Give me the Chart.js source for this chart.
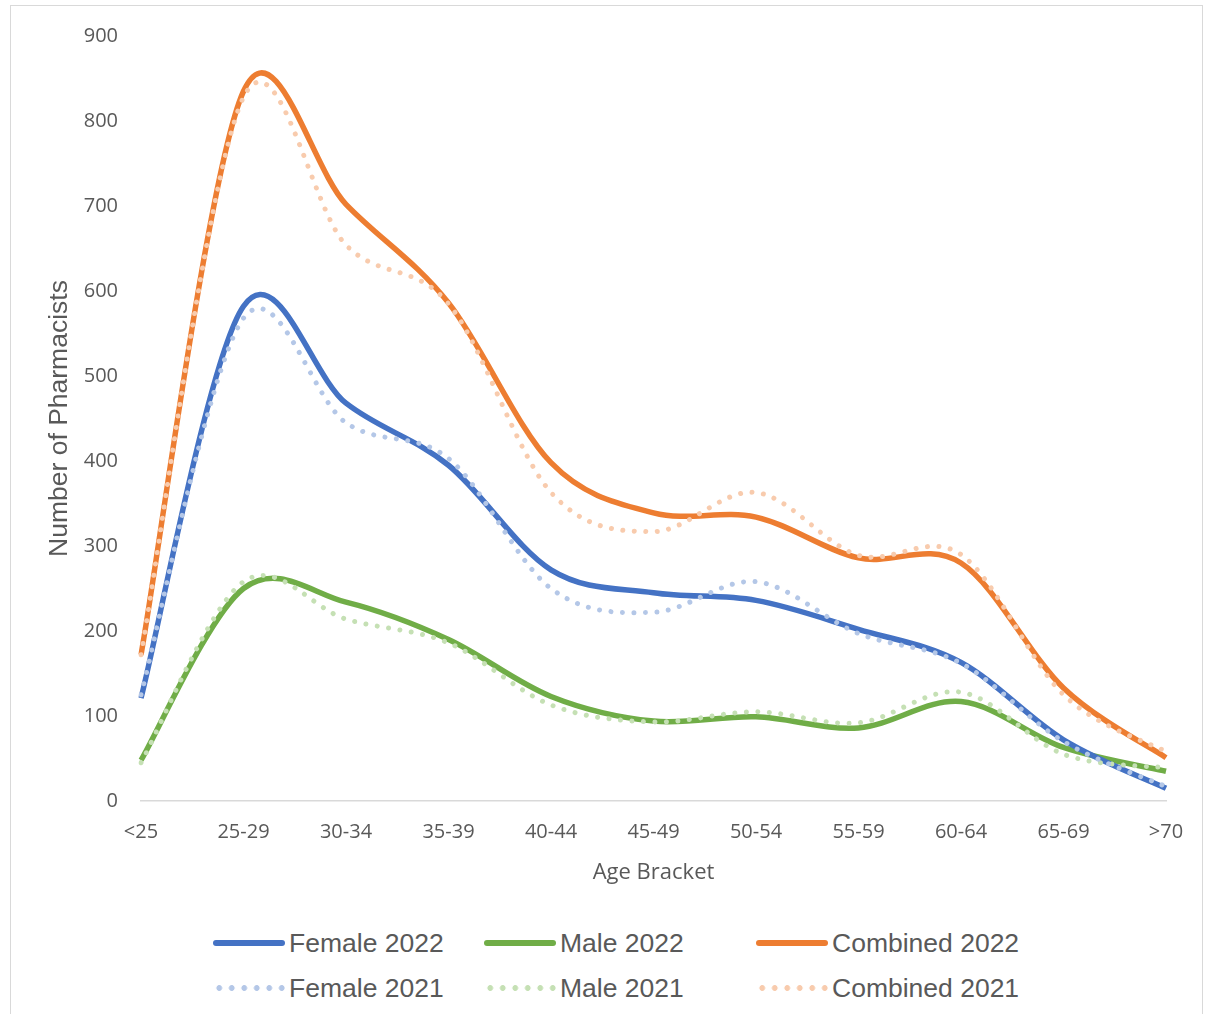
<!DOCTYPE html>
<html>
<head>
<meta charset="utf-8">
<script src="https://cdn.jsdelivr.net/npm/chart.js@4"></script>
<style>
  body { margin: 0; background: #fff; }
  #wrap { position: relative; width: 1206px; height: 1014px; overflow: hidden; background: #fff; }
  #frame { position: absolute; left: 10px; top: 5px; width: 1193px; height: 1030px; border: 1px solid #d9d9d9; box-sizing: border-box; }
  #pharm { position: absolute; left: 0; top: 0; }
  .leg { position: absolute; display: flex; align-items: center; font-family: "Liberation Sans", Arial, sans-serif; font-size: 26.5px; color: #595959; white-space: nowrap; }
  .sw { width: 72px; height: 6px; margin-right: 4px; }
</style>
</head>
<body>
<div id="wrap">
  <div id="frame"></div>
  <canvas id="pharm" width="1206" height="890"></canvas>
  <div id="legend"></div>
</div>
<script>
const ageBrackets = ["<25", "25-29", "30-34", "35-39", "40-44", "45-49", "50-54", "55-59", "60-64", "65-69", ">70"];

const female2022 = [121, 582, 468, 395, 272, 245, 236, 202, 163, 72, 15];
const male2022 = [48, 250, 234, 190, 123, 94, 99, 86, 117, 63, 35];
const combined2022 = [172, 835, 702, 586, 398, 339, 334, 286, 280, 133, 51];

const female2021 = [125, 568, 445, 403, 250, 222, 258, 197, 162, 70, 17];
const male2021 = [45, 258, 214, 186, 113, 93, 105, 92, 128, 55, 39];
const combined2021 = [172, 828, 654, 585, 363, 317, 363, 289, 290, 125, 58];

const solid = (label, data, color) => ({
  label: label,
  data: data,
  borderColor: color,
  borderWidth: 5.5,
  pointRadius: 0,
  tension: 0.4,
  fill: false,
  order: 1,
});

const dotted = (label, data, color) => ({
  label: label,
  data: data,
  borderColor: color,
  borderWidth: 5,
  borderDash: [0.01, 11.5],
  borderCapStyle: "round",
  pointRadius: 0,
  tension: 0.4,
  fill: false,
  order: 0,
});

const datasets = [
  solid("Female 2022", female2022, "#4472C4"),
  solid("Male 2022", male2022, "#70AD47"),
  solid("Combined 2022", combined2022, "#ED7D31"),
  dotted("Female 2021", female2021, "#B4C7E7"),
  dotted("Male 2021", male2021, "#C5E0B4"),
  dotted("Combined 2021", combined2021, "#F8CBAD"),
];

// Excel style smoothing: tangent = (next - prev) / 6, arm capped at half the segment
const excelSmooth = {
  id: "excelSmooth",
  beforeDatasetDraw(chart, args) {
    const line = args.meta.dataset;
    line.updateControlPoints(chart.chartArea, args.meta.iScale.axis);
    const pts = line.points;
    const n = pts.length;
    pts.forEach((p, i) => {
      const prev = pts[Math.max(i - 1, 0)];
      const next = pts[Math.min(i + 1, n - 1)];
      const tx = (next.x - prev.x) / 6;
      const ty = (next.y - prev.y) / 6;
      const tl = Math.hypot(tx, ty) || 1;
      const kIn = Math.min(1, Math.hypot(p.x - prev.x, p.y - prev.y) / 2 / tl);
      const kOut = Math.min(1, Math.hypot(next.x - p.x, next.y - p.y) / 2 / tl);
      p.cp1x = p.x - tx * kIn;
      p.cp1y = p.y - ty * kIn;
      p.cp2x = p.x + tx * kOut;
      p.cp2y = p.y + ty * kOut;
    });
  },
};

const tickFont = { family: "'Open Sans', sans-serif", size: 20 };

const ctx = document.getElementById("pharm").getContext("2d");
const myChart = new Chart(ctx, {
  type: "line",
  data: { labels: ageBrackets, datasets: datasets },
  plugins: [excelSmooth],
  options: {
    responsive: false,
    animation: false,
    layout: { padding: { top: 36, right: 40, left: 0, bottom: 0 } },
    plugins: { legend: { display: false }, tooltip: { enabled: false } },
    scales: {
      x: {
        grid: { display: false, drawTicks: false },
        border: { color: "#d9d9d9", width: 1.5 },
        ticks: { color: "#595959", font: tickFont, padding: 19, maxRotation: 0, autoSkip: false },
        title: {
          display: true,
          text: "Age Bracket",
          color: "#595959",
          font: { family: "'Open Sans', sans-serif", size: 22 },
          padding: { top: 0, bottom: 4 },
        },
        afterFit: (scale) => { scale.height = 89; },
      },
      y: {
        min: 0,
        max: 900,
        grid: { display: false, drawTicks: false },
        border: { display: false },
        ticks: { stepSize: 100, color: "#595959", font: tickFont, padding: 23 },
        title: {
          display: true,
          text: "Number of Pharmacists",
          color: "#595959",
          font: { family: "'Liberation Sans', Arial, sans-serif", size: 26.5 },
          padding: { top: 44, bottom: 0 },
        },
        afterFit: (scale) => { scale.width = 141; },
      },
    },
  },
});

// legend in three columns, like the original
const legendCols = [213, 484, 756];
const legendRows = [943, 988];
const legendBox = document.getElementById("legend");
datasets.forEach((ds, i) => {
  const item = document.createElement("div");
  item.className = "leg";
  item.style.left = legendCols[i % 3] + "px";
  item.style.top = (legendRows[Math.floor(i / 3)] - 15) + "px";
  item.style.height = "30px";
  const sw = document.createElement("div");
  sw.className = "sw";
  if (ds.borderDash) {
    sw.style.background = "radial-gradient(circle, " + ds.borderColor + " 2.6px, transparent 3.2px) 0 0 / 12.5px 6px repeat-x";
  } else {
    sw.style.background = ds.borderColor;
    sw.style.borderRadius = "3px";
  }
  const txt = document.createElement("span");
  txt.textContent = ds.label;
  item.appendChild(sw);
  item.appendChild(txt);
  legendBox.appendChild(item);
});
</script>
</body>
</html>
